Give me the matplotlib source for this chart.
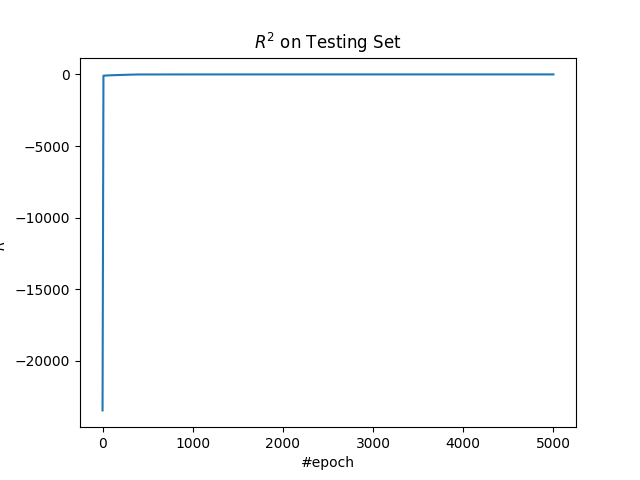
import matplotlib
matplotlib.use("Agg")
from matplotlib import pyplot as plt

# values
epochs = [0, 10, 50, 100, 200, 300, 400, 1000, 2000, 3000, 4000, 5000]
r2 = [-23450, -90, -75, -60, -40, -20, -6, -3, -2, -1, -1, -1]

fig = plt.figure(figsize=(6.4, 4.8), dpi=100)
plt.plot(epochs, r2)
plt.title("$R^2$ on Testing Set")
plt.xlabel("#epoch")
plt.ylabel("$R^2$")
plt.savefig("out.png")
